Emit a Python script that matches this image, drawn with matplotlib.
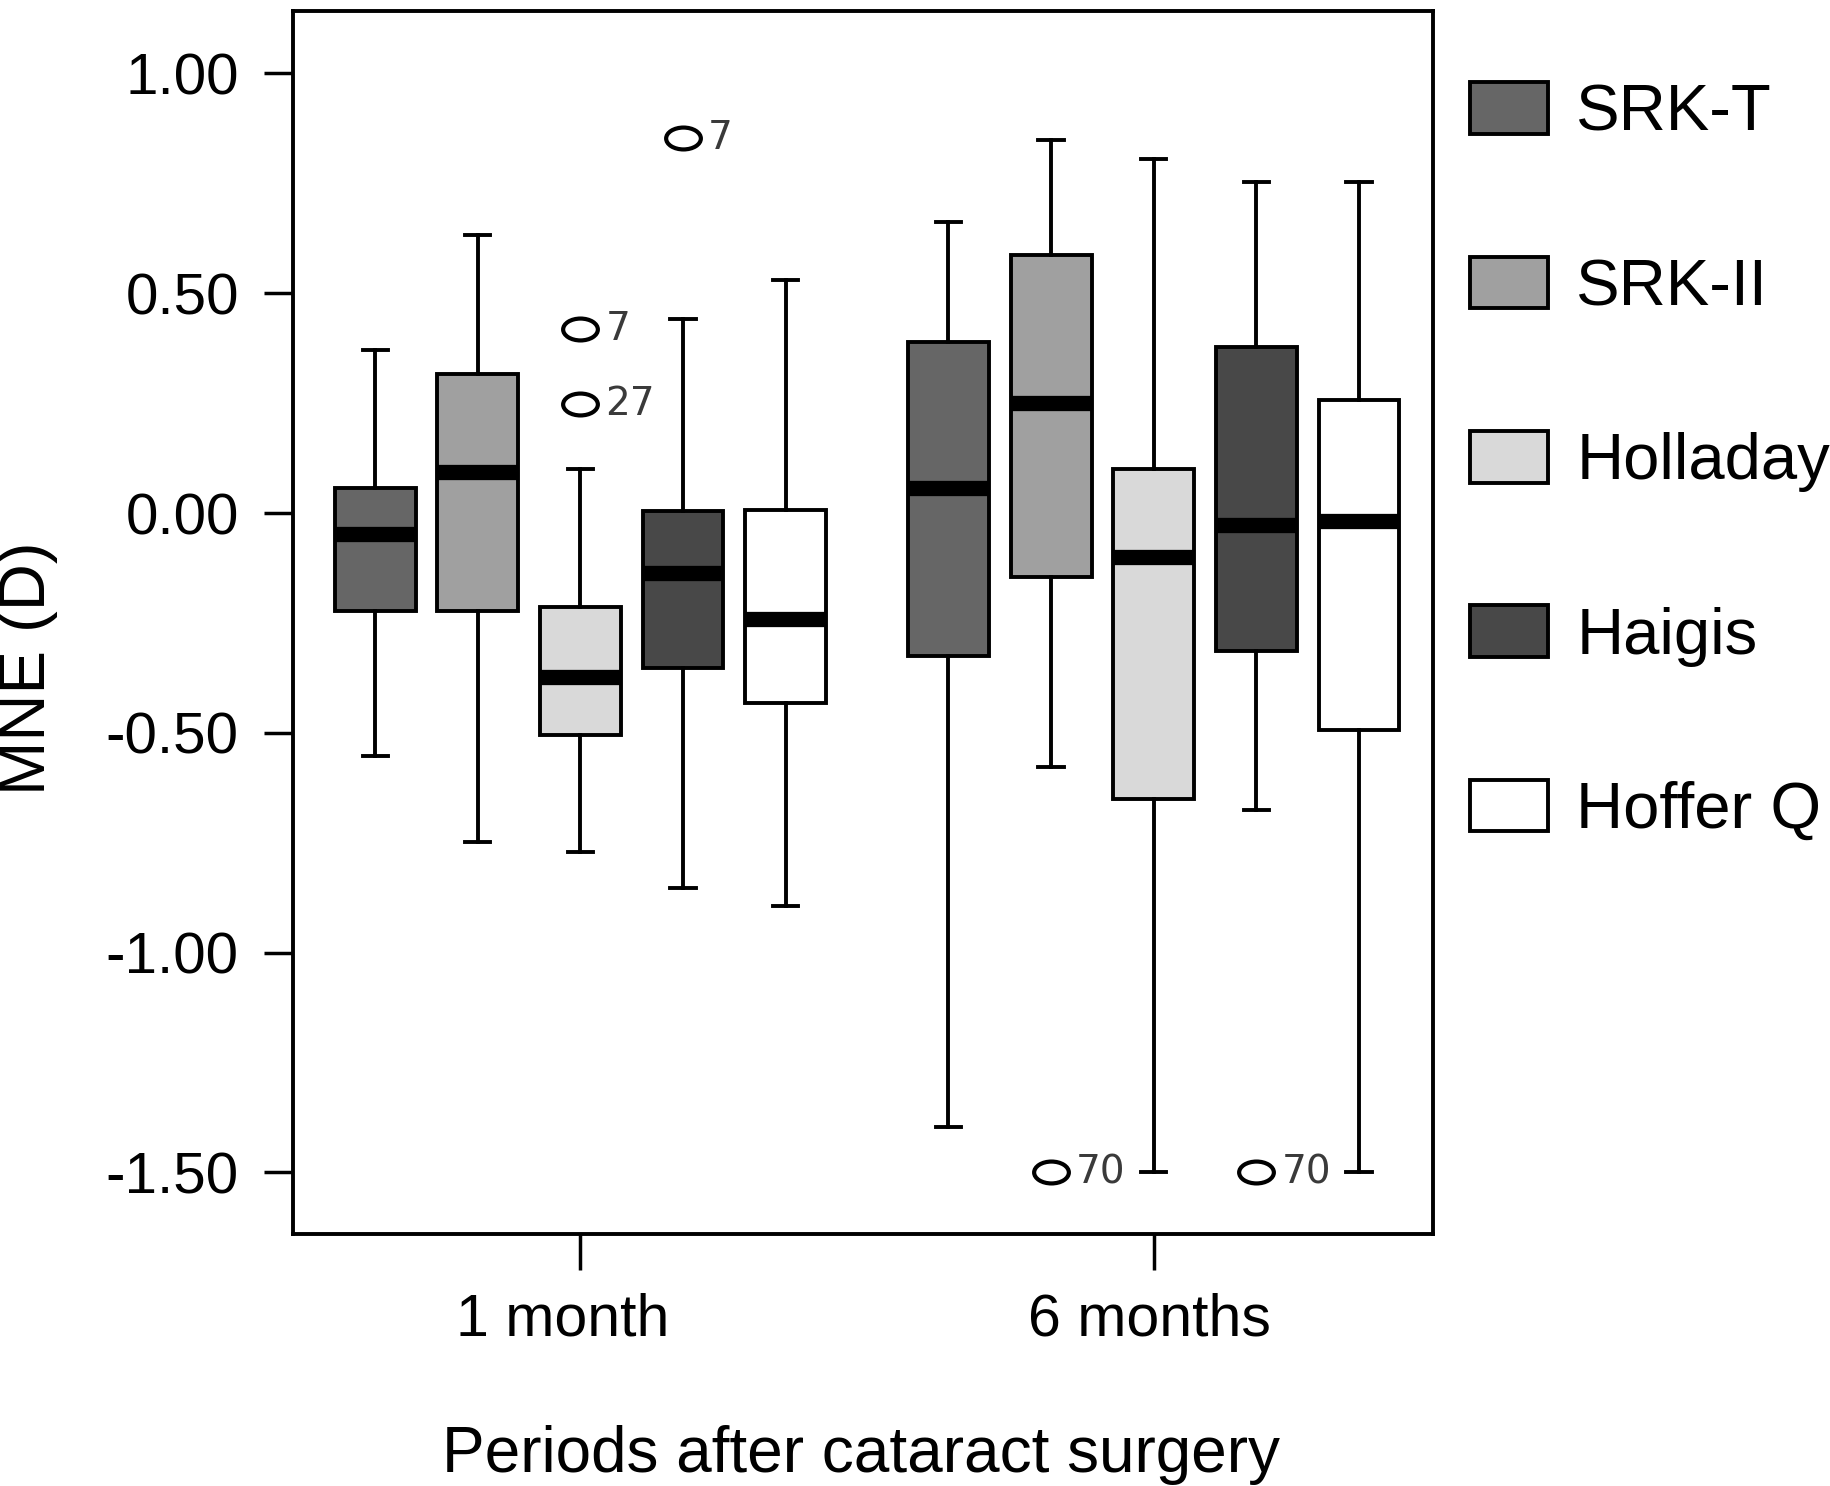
import numpy as np
import matplotlib
matplotlib.use("Agg")
import matplotlib.pyplot as plt
from matplotlib.patches import Patch
from matplotlib.path import Path
from matplotlib.transforms import Affine2D, ScaledTranslation

plt.rcParams['font.family'] = ['Liberation Sans', 'DejaVu Sans']

# data (MNE in dioptres)
periods = ['1 month', '6 months']
formulas = ['SRK-T', 'SRK-II', 'Holladay', 'Haigis', 'Hoffer Q']
fills = ['#666666', '#a0a0a0', '#d9d9d9', '#484848', '#ffffff']

whislo_1m = [-0.552, -0.748, -0.772, -0.852, -0.894]
q1_1m = [-0.222, -0.222, -0.506, -0.352, -0.432]
med_1m = [-0.047, 0.094, -0.374, -0.137, -0.241]
q3_1m = [0.057, 0.317, -0.214, 0.004, 0.006]
whishi_1m = [0.370, 0.633, 0.100, 0.442, 0.530]

whislo_6m = [-1.396, -0.578, -1.500, -0.676, -1.500]
q1_6m = [-0.326, -0.145, -0.650, -0.315, -0.493]
med_6m = [0.057, 0.251, -0.100, -0.028, -0.018]
q3_6m = [0.389, 0.586, 0.100, 0.378, 0.256]
whishi_6m = [0.663, 0.849, 0.806, 0.753, 0.753]

# outliers: (period index, formula index, value, case number)
out_period = [0, 0, 0, 1, 1]
out_formula = [2, 2, 3, 1, 3]
out_value = [0.418, 0.248, 0.854, -1.500, -1.500]
out_case = ['7', '27', '7', '70', '70']

yticks = [1.0, 0.5, 0.0, -0.5, -1.0, -1.5]
ytick_labels = ['1.00', '0.50', '0.00', '-0.50', '-1.00', '-1.50']

###############################################################################
fig = plt.figure(figsize=(18.31, 14.86), dpi=100)
ax = fig.add_axes([0.160, 0.1696, 0.6226, 0.823])

step = 0.179
ellipse = Path.unit_circle().transformed(Affine2D().scale(1.0, 0.63))

stats_all = [(whislo_1m, q1_1m, med_1m, q3_1m, whishi_1m),
             (whislo_6m, q1_6m, med_6m, q3_6m, whishi_6m)]

for g, (lo, q1, med, q3, hi) in enumerate(stats_all):
    for i in range(len(formulas)):
        fl = [v for p, f, v in zip(out_period, out_formula, out_value) if p == g and f == i]
        st = [dict(whislo=lo[i], q1=q1[i], med=med[i], q3=q3[i], whishi=hi[i], fliers=fl)]
        pos = g + 1 + (i - 2) * step
        ax.bxp(st, positions=[pos], widths=0.141, capwidths=0.044,
               patch_artist=True, showfliers=True, manage_ticks=False,
               boxprops=dict(facecolor=fills[i], edgecolor='black', linewidth=2.8),
               medianprops=dict(color='black', linewidth=11, solid_capstyle='butt'),
               whiskerprops=dict(color='black', linewidth=2.8),
               capprops=dict(color='black', linewidth=2.8),
               flierprops=dict(marker=ellipse, markersize=25, markerfacecolor='none',
                               markeredgecolor='black', markeredgewidth=3))

# case numbers next to the outliers
for p, f, v, c in zip(out_period, out_formula, out_value, out_case):
    ax.annotate(c, xy=(p + 1 + (f - 2) * step, v), xytext=(18, 0),
                textcoords='offset points', ha='left', va='center',
                fontsize=28, color='#3a3a3a', family='DejaVu Sans')

ax.set_xlim(0.4987, 2.487)
ax.set_ylim(-1.640, 1.142)
ax.set_xticks([1, 2])
ax.set_xticklabels(periods, fontsize=42.5)
ax.set_yticks(yticks)
ax.set_yticklabels(ytick_labels, fontsize=42)
ax.tick_params(axis='y', direction='out', length=21, width=2.5, pad=18)
ax.tick_params(axis='x', direction='out', length=26, width=2.5, pad=16)
for s in ax.spines.values():
    s.set_linewidth(2.8)

# SPSS puts the period labels a little left of their ticks
for lab, dx in zip(ax.get_xticklabels(), [-13, -3]):
    lab.set_transform(lab.get_transform() + ScaledTranslation(dx / 72, 0, fig.dpi_scale_trans))

fig.text(28 / 1831, 1 - 668 / 1486, 'MNE (D)', rotation=90, ha='center', va='center', fontsize=47)
fig.text(861 / 1831, 1 - 1472 / 1486, 'Periods after cataract surgery', ha='center',
         va='baseline', fontsize=46)

handles = [Patch(facecolor=c, edgecolor='black', linewidth=2.8) for c in fills]
fig.legend(handles, formulas, loc='upper left', bbox_to_anchor=(0.8028, 0.9446),
           frameon=False, fontsize=47, handlelength=1.19, handleheight=0.84,
           handletextpad=0.44, labelspacing=1.73, borderpad=0, borderaxespad=0)

fig.savefig('out.png', dpi=100)
